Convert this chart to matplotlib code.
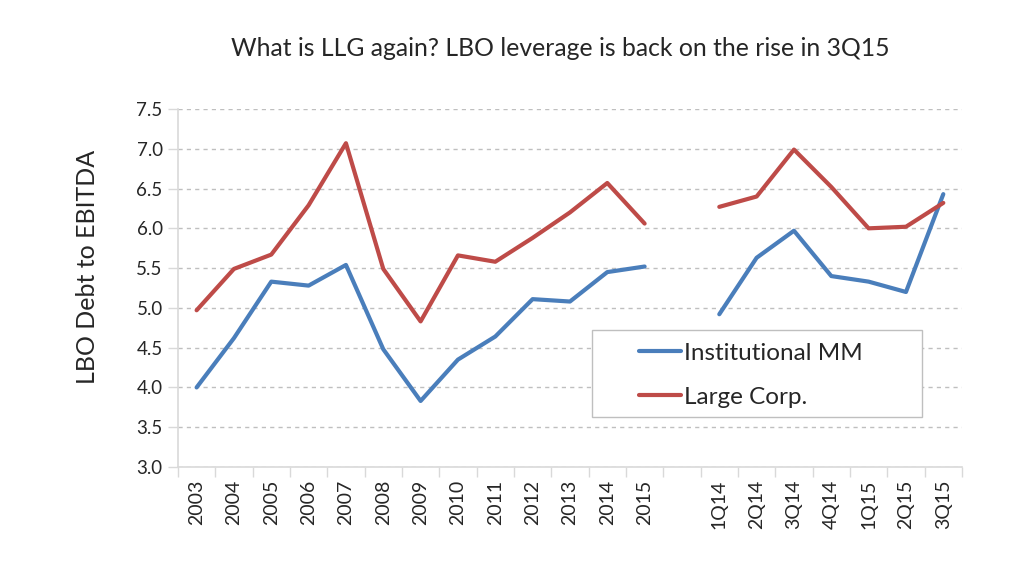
import matplotlib.pyplot as plt
from matplotlib.patches import Rectangle
import numpy as np

plt.rcParams['font.family'] = ['Lato', 'DejaVu Sans']

categories = ['2003', '2004', '2005', '2006', '2007', '2008', '2009', '2010',
              '2011', '2012', '2013', '2014', '2015', '',
              '1Q14', '2Q14', '3Q14', '4Q14', '1Q15', '2Q15', '3Q15']
inst_mm = [4.00, 4.62, 5.33, 5.28, 5.54, 4.48, 3.83, 4.35, 4.64, 5.11, 5.08, 5.45, 5.52, None,
           4.92, 5.63, 5.97, 5.40, 5.33, 5.20, 6.43]
large_corp = [4.97, 5.49, 5.67, 6.29, 7.07, 5.49, 4.83, 5.66, 5.58, 5.88, 6.20, 6.57, 6.06, None,
              6.27, 6.40, 6.99, 6.52, 6.00, 6.02, 6.32]

blue = '#4A7EBB'
red = '#BE4B48'
gray = '#D9D9D9'

x = np.arange(len(categories))
y1 = np.array(inst_mm, dtype=float)
y2 = np.array(large_corp, dtype=float)

fig = plt.figure(figsize=(10.11, 5.82), dpi=100)
ax = fig.add_axes([0.176, 0.1976, 0.7755, 0.6151])

ax.plot(x, y1, color=blue, lw=3.0, label='Institutional MM', solid_capstyle='round')
ax.plot(x, y2, color=red, lw=3.0, label='Large Corp.', solid_capstyle='round')

ax.set_xlim(-0.5, len(categories) - 0.5)
ax.set_ylim(3.0, 7.5)
ax.set_yticks(np.arange(3.0, 7.51, 0.5))
ax.set_yticklabels(['%.1f' % v for v in np.arange(3.0, 7.51, 0.5)], fontsize=13.5, color='#262626')
ax.yaxis.grid(True, linestyle=(0, (3, 3)), color='#BFBFBF', lw=1)
ax.set_axisbelow(True)

ax.set_xticks(x)
ax.set_xticklabels(categories, rotation=90, fontsize=14, color='#262626')
ax.set_xticks(np.arange(-0.5, len(categories)), minor=True)
ax.tick_params(axis='x', which='major', length=0, pad=9)
ax.tick_params(axis='x', which='minor', length=7, color=gray, width=1)
ax.tick_params(axis='y', length=7, color=gray, width=1, pad=4)

for s in ['top', 'right']:
    ax.spines[s].set_visible(False)
for s in ['left', 'bottom']:
    ax.spines[s].set_color(gray)
    ax.spines[s].set_linewidth(1.2)

ax.set_ylabel('LBO Debt to EBITDA', fontsize=18, color='#262626')
ax.yaxis.set_label_coords(-0.101, 0.56)
fig.text(0.554, 0.917, 'What is LLG again? LBO leverage is back on the rise in 3Q15',
         fontsize=17.8, ha='center', va='center', color='#262626')

# legend box
ax.add_patch(Rectangle((0.528, 0.14), 0.421, 0.243, transform=ax.transAxes,
                       facecolor='white', edgecolor='#BFBFBF', lw=1, zorder=4))
leg = ax.legend(loc='center left', bbox_to_anchor=(0.588, 0.256), frameon=False,
                fontsize=17.5, handlelength=1.75, handletextpad=0.12, labelspacing=0.95,
                borderpad=0, borderaxespad=0, labelcolor='#262626')
leg.set_zorder(5)

fig.savefig('out.png', dpi=100)
